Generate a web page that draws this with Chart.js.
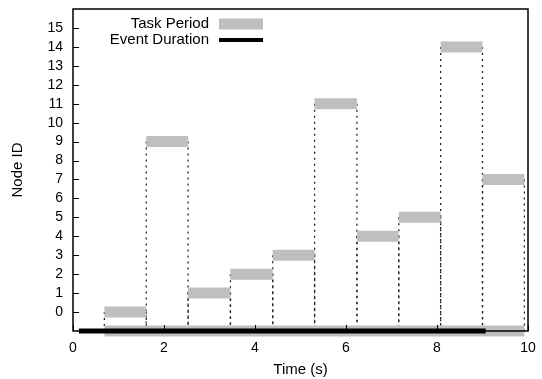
<!DOCTYPE html>
<html>
<head>
    <title>Task Schedule</title>
    <script src="https://cdn.jsdelivr.net/npm/chart.js"></script>
    <style>
        body {
            margin: 0;
            background-color: #fff;
            font-family: "Liberation Sans", Arial, sans-serif;
        }
        .chart-container {
            width: 542px;
            height: 379px;
            position: relative;
        }
    </style>
</head>
<body>
<div class="chart-container">
    <canvas id="scheduleChart"></canvas>
</div>

<script>
    // task bars: node id and start/end time (s)
    const nodeIds   = [0, 9, 1, 2, 3, 11, 4, 5, 14, 7];
    const taskStart = [0.69, 1.61, 2.53, 3.46, 4.39, 5.31, 6.24, 7.16, 8.08, 9.0];
    const taskEnd   = [1.61, 2.53, 3.46, 4.39, 5.31, 6.24, 7.16, 8.08, 9.0, 9.92];

    // whole task period along the bottom row
    const periodRow = -1;
    const periodSpan = [0.69, 9.92];

    // event duration (black line)
    const eventSpan = [0.13, 9.07];

    const xTicks = [0, 2, 4, 6, 8, 10];
    const yTicks = [0, 1, 2, 3, 4, 5, 6, 7, 8, 9, 10, 11, 12, 13, 14, 15];

    const GRAY = '#bfbfbf';
    const FONT = "'Liberation Sans', Arial, sans-serif";

    const datasets = [];

    // dotted drop lines at both ends of every task bar
    nodeIds.forEach((id, i) => {
        [taskStart[i], taskEnd[i]].forEach(t => {
            datasets.push({
                data: [{x: t, y: id}, {x: t, y: periodRow}],
                borderColor: '#222',
                borderWidth: 1.3,
                borderDash: [2, 4],
                pointRadius: 0,
                clip: false,
                order: 3
            });
        });
    });

    // gray task bars
    nodeIds.forEach((id, i) => {
        datasets.push({
            data: [{x: taskStart[i], y: id}, {x: taskEnd[i], y: id}],
            borderColor: GRAY,
            borderWidth: 11,
            borderCapStyle: 'butt',
            pointRadius: 0,
            clip: false,
            order: 2
        });
    });

    datasets.push({
        data: [{x: periodSpan[0], y: periodRow}, {x: periodSpan[1], y: periodRow}],
        borderColor: GRAY,
        borderWidth: 11,
        borderCapStyle: 'butt',
        pointRadius: 0,
        clip: false,
        order: 2
    });

    datasets.push({
        data: [{x: eventSpan[0], y: periodRow}, {x: eventSpan[1], y: periodRow}],
        borderColor: '#000',
        borderWidth: 5,
        borderCapStyle: 'butt',
        pointRadius: 0,
        clip: false,
        order: 1
    });

    // frame, inward ticks and legend, gnuplot style
    const framePlugin = {
        id: 'frame',
        afterDraw(chart) {
            const {ctx, chartArea: a, scales: {x, y}} = chart;
            ctx.save();
            ctx.strokeStyle = '#000';
            ctx.lineWidth = 1;
            ctx.beginPath();
            yTicks.forEach(v => {
                const py = Math.round(y.getPixelForValue(v)) + 0.5;
                ctx.moveTo(a.left, py);
                ctx.lineTo(a.left + 6, py);
            });
            xTicks.forEach(v => {
                const px = Math.round(x.getPixelForValue(v)) + 0.5;
                ctx.moveTo(px, a.bottom);
                ctx.lineTo(px, a.bottom - 6);
            });
            ctx.stroke();

            ctx.lineWidth = 1.5;
            ctx.strokeRect(a.left, a.top, a.right - a.left, a.bottom - a.top);

            // legend
            ctx.font = '15px ' + FONT;
            ctx.fillStyle = '#000';
            ctx.textAlign = 'right';
            ctx.textBaseline = 'middle';
            ctx.fillText('Task Period', 209, 24);
            ctx.fillText('Event Duration', 209, 40);
            ctx.lineCap = 'butt';
            ctx.strokeStyle = GRAY;
            ctx.lineWidth = 11;
            ctx.beginPath();
            ctx.moveTo(219, 24);
            ctx.lineTo(263, 24);
            ctx.stroke();
            ctx.strokeStyle = '#000';
            ctx.lineWidth = 4;
            ctx.beginPath();
            ctx.moveTo(219, 40);
            ctx.lineTo(263, 40);
            ctx.stroke();
            ctx.restore();
        }
    };

    const ctx = document.getElementById('scheduleChart').getContext('2d');
    const chart = new Chart(ctx, {
        type: 'line',
        data: { datasets: datasets },
        options: {
            responsive: true,
            maintainAspectRatio: false,
            animation: false,
            layout: { padding: { top: 9, right: 14, bottom: 0, left: 0 } },
            plugins: { legend: { display: false }, tooltip: { enabled: false } },
            scales: {
                x: {
                    type: 'linear',
                    min: 0,
                    max: 10,
                    afterBuildTicks: s => { s.ticks = xTicks.map(v => ({value: v})); },
                    afterFit: s => {
                        s.height = 48;
                        s.paddingLeft = 0;
                        s.paddingRight = 0;
                    },
                    grid: { display: false, drawTicks: false },
                    border: { display: false },
                    ticks: { color: '#000', padding: 9, maxRotation: 0, font: { family: FONT, size: 14 } },
                    title: { display: true, text: 'Time (s)', color: '#000', padding: 0, font: { family: FONT, size: 15 } }
                },
                y: {
                    type: 'linear',
                    min: -1,
                    max: 16,
                    afterBuildTicks: s => { s.ticks = yTicks.map(v => ({value: v})); },
                    afterFit: s => {
                        s.width = 73;
                        s.paddingTop = 0;
                        s.paddingBottom = 0;
                    },
                    grid: { display: false, drawTicks: false },
                    border: { display: false },
                    ticks: { color: '#000', padding: 10, font: { family: FONT, size: 14 } },
                    title: { display: true, text: 'Node ID', color: '#000', padding: { top: 9, bottom: 0 }, font: { family: FONT, size: 15 } }
                }
            }
        },
        plugins: [framePlugin]
    });
</script>
</body>
</html>
